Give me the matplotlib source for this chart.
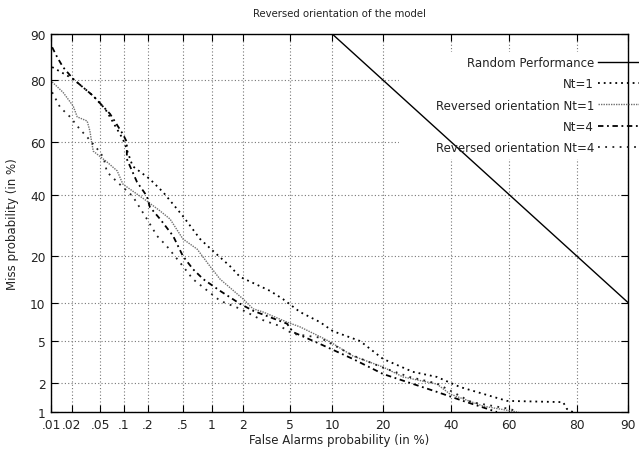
import numpy as np
import matplotlib
matplotlib.use('Agg')
import matplotlib.pyplot as plt
from matplotlib.patches import Rectangle
from statistics import NormalDist

# DET curves: false alarm rate vs miss rate, both in %
nt4_fa = [0.0104, 0.0123, 0.015, 0.021, 0.040, 0.067, 0.098, 0.11, 0.11, 0.147, 0.194, 0.21,
          0.277, 0.39, 0.50, 0.64, 0.82, 1.21, 1.87, 2.45, 4.71, 5.24, 8.26, 13.5, 20, 35.4, 44.1, 55.8]
nt4_miss = [87.6, 85.6, 83.3, 80.3, 75.5, 69.8, 62.8, 59.9, 53.5, 44.8, 39.5, 35.6,
            31.4, 25.9, 20.1, 16.8, 14.5, 12.1, 9.8, 8.7, 6.9, 5.9, 4.68, 3.44, 2.48, 1.64, 1.32, 1.0]

nt1_fa = [0.0104, 0.021, 0.040, 0.058, 0.098, 0.104, 0.13, 0.21, 0.30, 0.50, 0.76, 1.03, 1.51,
          1.87, 3.43, 4.37, 5.93, 8.26, 10.1, 14.9, 20, 28, 35.4, 43.1, 59.2, 76.4, 77.4, 78.9]
nt1_miss = [83.3, 80.3, 75.5, 71.4, 61.0, 59.1, 50.8, 45.9, 41.0, 32.4, 25.0, 21.5, 17.5,
            15.0, 12.1, 10.6, 8.5, 7.1, 6.0, 4.96, 3.44, 2.6, 2.32, 1.84, 1.32, 1.28, 1.08, 1.0]

rev1_fa = [0.0104, 0.015, 0.021, 0.024, 0.033, 0.036, 0.038, 0.040, 0.061, 0.083, 0.098, 0.13,
           0.194, 0.277, 0.36, 0.50, 0.71, 0.96, 1.21, 2.0, 2.45, 3.0, 4.71, 5.93, 8.26, 9.7,
           13.5, 20, 25.2, 35.4, 39.7, 51, 62.5]
rev1_miss = [79.5, 76.6, 72.4, 68.8, 67.4, 63.9, 59.9, 56.5, 52.4, 49.0, 44.0, 41.4,
             37.7, 34.2, 31.4, 25.0, 22.0, 17.5, 14.5, 10.6, 9.0, 8.5, 7.1, 6.5, 5.4, 4.87,
             3.66, 2.89, 2.32, 1.97, 1.56, 1.16, 1.0]

rev4_fa = [0.0104, 0.0136, 0.019, 0.026, 0.033, 0.049, 0.055, 0.061, 0.083, 0.13, 0.194, 0.256,
           0.33, 0.50, 0.64, 1.21, 1.87, 2.82, 4.14, 5.24, 8.26, 13.5, 20, 27, 35.4, 47, 60.2, 63]
rev4_miss = [76.6, 72.0, 68.8, 64.6, 61.7, 56.2, 54.0, 48.6, 44.8, 39.5, 31.4, 25.9,
             22.9, 17.5, 14.5, 10.3, 9.0, 7.5, 6.6, 5.7, 5.3, 3.7, 2.85, 2.32, 2.0, 1.28, 1.08, 1.0]

rand_fa = [10, 90]
rand_miss = [90, 10]

xticks = [0.01, 0.02, 0.05, 0.1, 0.2, 0.5, 1, 2, 5, 10, 20, 40, 60, 80, 90]
xticklabels = ['.01', '.02', '.05', '.1', '.2', '.5', '1', '2', '5', '10', '20', '40', '60', '80', '90']
yticks = [1, 2, 5, 10, 20, 40, 60, 80, 90]
yticklabels = ['1', '2', '5', '10', '20', '40', '60', '80', '90']

# normal deviate scale for percentages
_nd = NormalDist()
_ppf = np.vectorize(_nd.inv_cdf, otypes=[float])
_cdf = np.vectorize(_nd.cdf, otypes=[float])


def probit(x):
    p = np.clip(np.asarray(x, dtype=float) / 100.0, 1e-12, 1 - 1e-12)
    return _ppf(p)


def unprobit(z):
    return 100.0 * _cdf(np.asarray(z, dtype=float))


txt = '#222222'
fig = plt.figure(figsize=(6.39, 4.52), dpi=100)
ax = fig.add_axes([51 / 639, 39 / 452, 577 / 639, 378 / 452])
ax.set_xscale('function', functions=(probit, unprobit))
ax.set_yscale('function', functions=(probit, unprobit))
ax.set_xlim(0.01, 90)
ax.set_ylim(1, 90)

ax.set_axisbelow(True)
ax.grid(True, color='#777777', linestyle=(0, (1, 2)), linewidth=0.8)
# blank area behind the key
ax.add_patch(Rectangle((0.603, 0.669), 0.397, 0.283, transform=ax.transAxes,
                       facecolor='white', edgecolor='none', zorder=1))

ax.plot(rand_fa, rand_miss, color='black', lw=1.0, label='Random Performance')
ax.plot(nt1_fa, nt1_miss, color='black', lw=1.3, ls=(0, (1, 2.2)), label='Nt=1')
ax.plot(rev1_fa, rev1_miss, color='#707070', lw=1.0, ls=(0, (1, 0.8)),
        label='Reversed orientation Nt=1')
ax.plot(nt4_fa, nt4_miss, color='black', lw=1.3, ls=(0, (3, 2, 1, 2)), label='Nt=4')
ax.plot(rev4_fa, rev4_miss, color='#222222', lw=1.3, ls=(0, (1, 3)),
        label='Reversed orientation Nt=4')

ax.xaxis.set_major_locator(plt.FixedLocator(xticks))
ax.yaxis.set_major_locator(plt.FixedLocator(yticks))
ax.xaxis.set_minor_locator(plt.NullLocator())
ax.yaxis.set_minor_locator(plt.NullLocator())
ax.set_xticklabels(xticklabels)
ax.set_yticklabels(yticklabels)
ax.tick_params(direction='in', length=5, width=0.8, top=True, right=True,
               labelsize=8.8, labelcolor=txt, pad=4)
for s in ax.spines.values():
    s.set_linewidth(1.0)

ax.set_xlabel('False Alarms probability (in %)', fontsize=8.5, color=txt, labelpad=2)
ax.set_ylabel('Miss probability (in %)', fontsize=8.5, color=txt, labelpad=8)
ax.set_title('Reversed orientation of the model', fontsize=7.3, color=txt, pad=13)

leg = fig.legend(loc='upper right', bbox_to_anchor=(1.0, 1 - 57 / 452), frameon=False,
                 markerfirst=False, fontsize=8.5, handlelength=3.5, handletextpad=0.3,
                 labelspacing=0.7, borderpad=0, borderaxespad=0)
for t in leg.get_texts():
    t.set_color(txt)

fig.savefig('out.png', dpi=100)
